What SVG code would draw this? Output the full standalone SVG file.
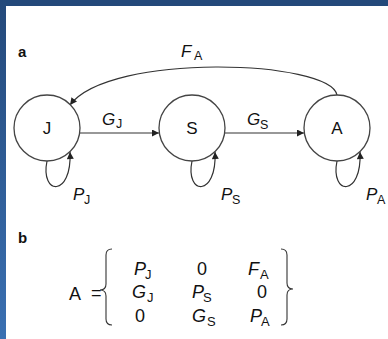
<svg xmlns="http://www.w3.org/2000/svg" width="388" height="339" viewBox="0 0 388 339">
<defs>
<linearGradient id="lb" x1="0" y1="0" x2="0" y2="1">
<stop offset="0" stop-color="#24497a"/>
<stop offset="1" stop-color="#3a70b2"/>
</linearGradient>
<marker id="ah" viewBox="0 0 10 10" refX="10" refY="5" markerUnits="userSpaceOnUse" markerWidth="9" markerHeight="7" orient="auto">
<path d="M0,0 L10,5 L0,10 z" fill="#222"/>
</marker>
<style>
.node circle{fill:#fff;stroke:#444;stroke-width:1.3}
.node text{font-family:"Liberation Sans",Arial,sans-serif;font-size:17px;fill:#111;text-anchor:middle}
.edge{fill:none;stroke:#333;stroke-width:1.2;marker-end:url(#ah)}
.m{font-family:"Liberation Sans",Arial,sans-serif;font-size:17px;font-style:italic;fill:#111}
.s{font-family:"Liberation Sans",Arial,sans-serif;font-size:12.5px;fill:#111}
.mm{font-family:"Liberation Sans",Arial,sans-serif;font-size:18px;font-style:italic;fill:#111}
.mr{font-family:"Liberation Sans",Arial,sans-serif;font-size:18px;fill:#111}
.ms{font-family:"Liberation Sans",Arial,sans-serif;font-size:13px;fill:#111}
.lab{font-family:"Liberation Sans",Arial,sans-serif;font-size:15px;font-weight:bold;fill:#111}
.br{fill:none;stroke:#333;stroke-width:1.1}
</style>
</defs>
<rect x="0" y="0" width="388" height="339" fill="#fff"/>
<rect x="0" y="0" width="388" height="6" fill="#23497a"/>
<rect x="0" y="0" width="6" height="339" fill="url(#lb)"/>

<text class="lab" x="18" y="57">a</text>

<g id="connectors">
<path class="edge" d="M 80 133 L 159 133"/>
<path class="edge" d="M 225 133 L 304 133"/>
<path class="edge" d="M 337 95 C 330 60, 110 52, 70 105"/>
<path class="edge" d="M 47 161 C 40 195, 72 198, 70 152"/>
<path class="edge" d="M 192 161 C 185 195, 217 198, 215 152"/>
<path class="edge" d="M 337 161 C 330 195, 362 198, 360 152"/>
</g>

<g id="node-J" class="node"><circle cx="47" cy="128" r="33"/><text x="47" y="134">J</text></g>
<g id="node-S" class="node"><circle cx="192" cy="128" r="33"/><text x="192" y="134">S</text></g>
<g id="node-A" class="node"><circle cx="337" cy="128" r="33"/><text x="337" y="134">A</text></g>

<g id="edge-labels">
<text class="m" x="181" y="57">F</text><text class="s" x="194" y="60">A</text>
<text class="m" x="102" y="125">G</text><text class="s" x="116" y="128">J</text>
<text class="m" x="247" y="125">G</text><text class="s" x="260" y="129">S</text>
<text class="m" x="73" y="200">P</text><text class="s" x="84" y="204">J</text>
<text class="m" x="221" y="200">P</text><text class="s" x="232" y="204">S</text>
<text class="m" x="366" y="200">P</text><text class="s" x="377" y="204">A</text>
</g>

<text class="lab" x="18" y="243">b</text>

<g id="matrix">
<text class="mr" x="69" y="300">A</text>
<text class="mr" x="91" y="299" font-size="14">=</text>
<path class="br" d="M 112 249 Q 106 249 106 255 L 106 284 Q 106 290 100 290 Q 106 290 106 296 L 106 319 Q 106 325 112 325"/>
<path class="br" d="M 281 249 Q 287 249 287 255 L 287 283 Q 287 289 293 289 Q 287 289 287 295 L 287 319 Q 287 325 281 325"/>
<text class="mm" x="134" y="275">P</text><text class="ms" x="145" y="279">J</text>
<text class="mr" x="197" y="275">0</text>
<text class="mm" x="248" y="275">F</text><text class="ms" x="260" y="279">A</text>
<text class="mm" x="132" y="298">G</text><text class="ms" x="147" y="302">J</text>
<text class="mm" x="192" y="298">P</text><text class="ms" x="203" y="302">S</text>
<text class="mr" x="257" y="298">0</text>
<text class="mr" x="135" y="322">0</text>
<text class="mm" x="192" y="322">G</text><text class="ms" x="207" y="326">S</text>
<text class="mm" x="250" y="322">P</text><text class="ms" x="261" y="326">A</text>
</g>
</svg>
